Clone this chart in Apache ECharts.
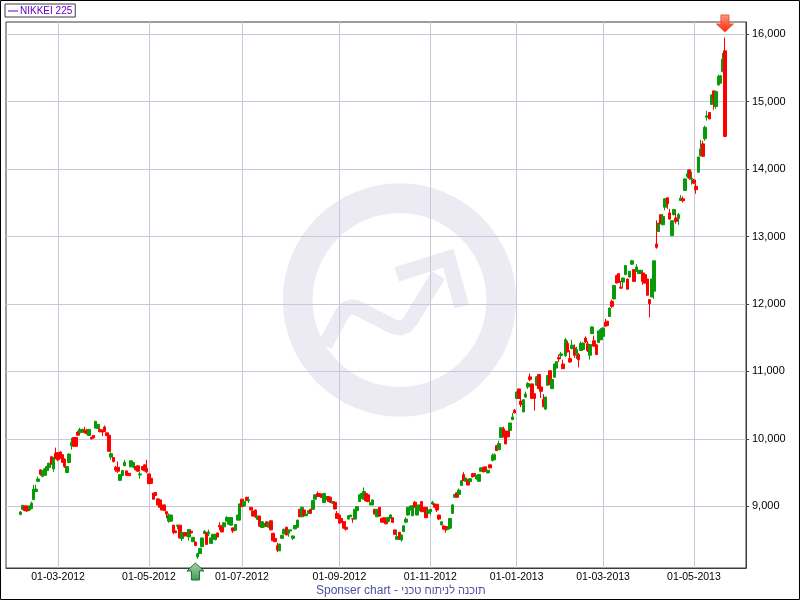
<!DOCTYPE html>
<html>
<head>
<meta charset="utf-8">
<style>
  html, body { margin: 0; padding: 0; background: #fff; }
  #chart { width: 800px; height: 600px; }
</style>
<script src="https://cdn.jsdelivr.net/npm/echarts@6/dist/echarts.min.js"></script>
</head>
<body>
<div id="chart"></div>
<script>
// ערכים נקראו מהתמונה
const opens = [
  8880,8955,9005,9005,8945,8965,9100,9220,9370,9540,
  9445,9460,9530,9575,9735,9555,9790,9795,9805,9765,
  9700,9500,9650,9900,10020,10020,10100,10090,10100,10130,
  10115,10050,10025,10050,10160,10155,10140,10115,10175,10090,
  10055,9730,9725,9580,9580,9385,9455,9600,9525,9490,
  9585,9580,9590,9600,9465,9590,9615,9565,9480,9415,
  9195,9205,9110,9095,9020,9020,8920,8780,8780,8720,
  8635,8705,8720,8520,8610,8610,8545,8630,8475,8470,
  8250,8300,8400,8595,8610,8595,8450,8510,8505,8605,
  8715,8695,8695,8780,8735,8720,8680,8645,8795,8795,
  9105,9005,9135,9080,8985,8930,8945,8805,8855,8685,
  8695,8770,8690,8785,8600,8525,8415,8340,8525,8590,
  8690,8600,8635,8525,8665,8690,8955,8845,8945,8860,
  8895,8955,8955,9105,9190,9190,9180,9055,9095,9145,
  9135,9045,9060,8895,8870,8820,8775,8690,8810,8845,
  8815,8810,8935,9070,9120,9105,9190,9170,9020,9020,
  8955,8845,8985,8820,8830,8820,8775,8820,8830,8650,
  8510,8615,8500,8625,8765,8870,8945,8860,9060,8870,
  8935,9070,8985,8985,8895,8920,9035,9035,9030,8870,
  8725,8710,8700,8660,8675,8895,9135,9200,9175,9310,
  9470,9370,9395,9365,9485,9485,9405,9370,9520,9580,
  9585,9495,9615,9680,9690,9900,9840,10020,10150,10115,
  10115,10125,10285,10425,10600,10740,10560,10400,10620,10770,
  10920,10815,10670,10795,10955,10770,10585,10440,10795,11010,
  10745,10915,11050,11205,11235,11110,11235,11415,11190,11340,
  11350,11265,11250,11310,11325,11495,11410,11240,11560,11455,
  11395,11430,11470,11520,11730,11745,11815,12040,12075,12420,
  12450,12250,12325,12435,12370,12400,12590,12510,12485,12450,
  12450,12460,12435,12370,12065,12105,12190,12890,13075,13325,
  13175,13435,13575,13350,13015,13325,13275,13265,13535,13560,
  13685,13890,13990,13850,13840,13745,13955,14200,14375,14450,
  14770,14840,14960,15160,14930,15250,15275,15450,15755
]
const closes = [
  8915,9015,8935,8930,9005,9045,9255,9255,9405,9475,
  9525,9555,9590,9640,9625,9725,9705,9690,9715,9650,
  9590,9590,9775,9950,9890,9890,10055,10140,10140,10090,
  10080,10140,10000,10015,10260,10215,10105,10100,10110,10050,
  9815,9780,9665,9540,9520,9470,9530,9650,9460,9455,
  9675,9650,9540,9520,9480,9540,9525,9510,9335,9340,
  9105,9160,9020,8985,8945,8935,8885,8870,8870,8610,
  8610,8720,8530,8610,8560,8560,8655,8605,8540,8420,
  8295,8375,8530,8630,8435,8620,8530,8585,8585,8545,
  8695,8620,8755,8835,8835,8835,8635,8730,8870,9035,
  8995,9070,9085,9095,8945,8855,8845,8855,8705,8770,
  8745,8705,8765,8650,8490,8475,8350,8440,8570,8660,
  8575,8650,8650,8560,8715,8795,8845,8985,8860,8885,
  8935,8895,9085,9170,9145,9145,9130,9190,9145,9070,
  9055,9070,8960,8820,8750,8760,8675,8660,8860,8870,
  8810,8955,8995,9170,9190,9220,9080,9070,9055,9095,
  8885,8955,8855,8765,8765,8740,8835,8870,8760,8585,
  8550,8510,8575,8710,8810,8985,9005,9010,8985,8995,
  9020,8920,8920,8830,8945,8955,9060,8985,8945,8810,
  8770,8660,8650,8670,8820,9020,9175,9135,9240,9380,
  9380,9420,9315,9410,9435,9445,9460,9470,9570,9510,
  9520,9535,9570,9755,9765,9825,9930,10165,10030,9925,
  10030,10235,10325,10385,10695,10600,10510,10580,10665,10820,
  10880,10600,10600,10920,10745,10705,10475,10620,10940,10805,
  10880,11110,11145,11185,11260,11040,11470,11290,11140,11390,
  11240,11325,11175,11415,11420,11435,11310,11400,11660,11375,
  11250,11600,11620,11645,11670,11680,11940,11965,12275,12310,
  12320,12235,12385,12570,12220,12485,12640,12335,12550,12500,
  12500,12335,12310,12130,12005,12370,12640,12840,13200,13190,
  13300,13560,13485,13260,13235,13400,13225,13325,13570,13530,
  13855,13930,13865,13865,13790,13695,14180,14300,14190,14620,
  14790,14745,15100,15040,15150,15375,15385,15630,14485
]
const lows = [
  8865,8945,8930,8925,8930,8960,9095,9210,9365,9455,
  9430,9455,9525,9565,9620,9510,9700,9665,9705,9645,
  9570,9495,9640,9840,9885,9885,10050,10080,10095,10085,
  10065,10045,9990,10005,10155,10150,10100,10040,10105,10040,
  9810,9690,9650,9510,9495,9375,9450,9595,9455,9450,
  9580,9565,9535,9515,9410,9535,9520,9490,9330,9335,
  9100,9155,9015,8980,8940,8930,8820,8755,8775,8585,
  8600,8660,8525,8485,8555,8555,8490,8600,8470,8410,
  8220,8290,8395,8590,8430,8560,8445,8490,8495,8540,
  8645,8615,8690,8775,8730,8715,8605,8640,8790,8790,
  8990,9000,9080,9050,8940,8850,8825,8800,8700,8680,
  8690,8700,8685,8645,8485,8470,8320,8335,8520,8585,
  8570,8550,8630,8500,8660,8685,8840,8840,8855,8855,
  8885,8890,8950,9100,9140,9140,9125,9050,9090,9065,
  9050,9040,8955,8815,8745,8755,8670,8640,8805,8840,
  8755,8805,8930,9065,9110,9100,9075,9060,9015,9015,
  8880,8840,8850,8760,8755,8735,8770,8815,8755,8575,
  8505,8505,8475,8620,8750,8865,8940,8855,8980,8865,
  8930,8915,8915,8825,8890,8870,9020,8980,8915,8795,
  8720,8655,8610,8650,8670,8890,9130,9130,9160,9300,
  9375,9365,9310,9350,9430,9440,9400,9365,9515,9505,
  9515,9490,9565,9665,9685,9820,9835,10015,10025,9920,
  10025,10120,10280,10380,10595,10595,10470,10395,10610,10740,
  10855,10595,10420,10790,10740,10605,10470,10435,10790,10800,
  10740,10910,11045,11140,11190,11035,11215,11285,11125,11325,
  11200,11185,11060,11305,11320,11420,11290,11175,11555,11370,
  11245,11425,11465,11515,11665,11675,11810,11940,12070,12305,
  12315,12230,12250,12430,12215,12395,12580,12330,12480,12445,
  12445,12285,12305,12125,11800,12100,12075,12820,13070,13185,
  13170,13390,13410,13250,13005,13315,13190,13175,13530,13505,
  13680,13865,13840,13770,13785,13635,13950,14190,14185,14420,
  14720,14740,14955,14880,14895,15235,15270,15435,14480
]
const highs = [
  8930,9020,9010,9010,9010,9070,9320,9320,9440,9550,
  9530,9565,9600,9645,9740,9730,9870,9800,9815,9770,
  9710,9595,9780,10015,10025,10025,10115,10165,10150,10180,
  10150,10145,10030,10055,10265,10220,10155,10140,10200,10095,
  10060,9805,9730,9600,9665,9475,9535,9690,9530,9495,
  9680,9655,9595,9610,9510,9595,9625,9690,9485,9420,
  9205,9215,9120,9100,9025,9025,8925,8895,8875,8725,
  8640,8730,8725,8615,8615,8620,8660,8640,8545,8475,
  8310,8380,8540,8645,8615,8655,8535,8590,8590,8610,
  8765,8700,8760,8855,8840,8840,8685,8735,8875,9040,
  9110,9075,9140,9145,8990,8935,8950,8860,8860,8775,
  8750,8775,8770,8790,8605,8530,8460,8445,8575,8665,
  8695,8655,8655,8565,8720,8800,8960,8995,8950,8890,
  8940,8965,9090,9175,9220,9195,9185,9195,9150,9150,
  9140,9075,9065,8930,8875,8825,8780,8695,8865,8875,
  8820,8960,9000,9175,9200,9280,9195,9175,9060,9100,
  8960,8960,8990,8825,8835,8825,8840,8885,8835,8655,
  8650,8620,8580,8715,8835,8990,9010,9015,9080,9000,
  9025,9075,8990,8990,8950,8960,9080,9040,9035,8875,
  8775,8715,8705,8675,8825,9035,9180,9205,9265,9385,
  9505,9425,9400,9415,9495,9490,9465,9475,9575,9585,
  9590,9540,9620,9785,9785,9905,9975,10170,10180,10120,
  10120,10240,10385,10445,10700,10745,10610,10585,10700,10840,
  10970,10820,10675,10925,10960,10865,10665,10625,10945,11015,
  10885,11115,11150,11250,11290,11175,11495,11455,11315,11470,
  11400,11365,11275,11445,11430,11520,11450,11405,11665,11530,
  11400,11605,11640,11650,11780,11750,11945,12065,12280,12435,
  12455,12345,12390,12575,12375,12490,12655,12515,12590,12505,
  12505,12475,12440,12375,12070,12375,12645,13240,13205,13330,
  13335,13565,13580,13410,13240,13410,13350,13350,13615,13595,
  13860,13990,13995,13965,13855,13785,14185,14435,14420,14645,
  14865,14845,15105,15165,15155,15400,15390,15720,15950
]
// מספר הנר שבו מתחיל כל חודש
const tickCandles = [17, 58, 100, 144, 185, 224, 263, 304]
const tickLabels = ['01-03-2012', '01-05-2012', '01-07-2012', '01-09-2012', '01-11-2012', '01-01-2013', '01-03-2013', '01-05-2013']
const yTicks = [9000, 10000, 11000, 12000, 13000, 14000, 15000, 16000]
const yMin = 8085
const yMax = 16182
const lowCandle = 79
const highCandle = 318
const seriesName = 'NIKKEI 225'
const captionLatin = 'Sponser chart - '
const captionHebrew = 'תוכנה לניתוח טכני'

const padLeft = 6
const padRight = 9
const font = '"Liberation Sans", Arial, sans-serif'
const gridColor = '#c9c7d8'
const axisColor = '#3c3c3c'
const markColor = '#ecebf4'

let categories = []
let candles = []
for (let i = 0; i < padLeft; i++) {
  categories.push('')
  candles.push('-')
}
opens.forEach((o, i) => {
  let at = tickCandles.indexOf(i)
  categories.push(at >= 0 ? tickLabels[at] : '')
  candles.push([o, closes[i], lows[i], highs[i]])
})
for (let i = 0; i < padRight; i++) {
  categories.push('')
  candles.push('-')
}
const isTick = (index) => tickCandles.indexOf(index - padLeft) >= 0

let myChart = echarts.init(document.getElementById('chart'))
let option = {
  animation: false,
  backgroundColor: '#fff',
  textStyle: { fontFamily: font },
  title: {
    text: '{a|' + captionLatin + '}{b|' + captionHebrew + '}',
    left: 316,
    top: 585,
    padding: 0,
    textStyle: {
      color: '#4d4da6',
      fontSize: 12,
      fontWeight: 'normal',
      fontFamily: font,
      rich: {
        a: { color: '#4d4da6', fontSize: 12, fontFamily: font },
        b: { color: '#4d4da6', fontSize: 11, fontFamily: font }
      }
    }
  },
  legend: {
    left: 5,
    top: 4,
    padding: [2, 3, 1, 3],
    borderColor: axisColor,
    borderWidth: 1,
    itemWidth: 10,
    itemHeight: 1,
    itemGap: 0,
    selectedMode: false,
    textStyle: { color: '#6600cc', fontSize: 10, fontFamily: font, padding: [0, 0, 0, -3] },
    data: [{ name: seriesName, icon: 'rect', itemStyle: { color: '#6600cc', borderWidth: 0 } }]
  },
  grid: {
    left: 6,
    right: 54,
    top: 22,
    bottom: 32,
    show: true,
    borderColor: axisColor,
    borderWidth: 1
  },
  xAxis: {
    type: 'category',
    data: categories,
    boundaryGap: true,
    axisLine: { lineStyle: { color: axisColor } },
    axisTick: { alignWithLabel: true, length: 2, interval: isTick, lineStyle: { color: axisColor } },
    axisLabel: { interval: isTick, hideOverlap: false, margin: 4, color: '#000', fontSize: 10.5, fontFamily: font },
    splitLine: { show: true, alignWithLabel: true, interval: isTick, lineStyle: { color: gridColor, width: 1 } }
  },
  yAxis: {
    type: 'value',
    position: 'right',
    min: yMin,
    max: yMax,
    axisLine: { show: true, lineStyle: { color: axisColor } },
    axisTick: { show: true, length: 3, customValues: yTicks, lineStyle: { color: axisColor } },
    axisLabel: { customValues: yTicks, margin: 6, padding: [2, 0, 0, 0], color: '#000', fontSize: 11, fontFamily: font },
    splitLine: { show: true, lineStyle: { color: gridColor, width: 1 } }
  },
  graphic: [
    // סימן מים
    { type: 'ring', z: -1, silent: true, shape: { cx: 399.5, cy: 300, r: 116.7, r0: 87 }, style: { fill: markColor } },
    { type: 'polyline', z: -1, silent: true, shape: { points: [[325, 345.3], [342.3, 313.3], [346, 309], [351, 307], [356, 307.5], [393, 326.5], [400, 328], [406, 326], [411, 320], [438.3, 275]] }, style: { fill: 'none', stroke: markColor, lineWidth: 15, lineJoin: 'round' } },
    { type: 'polyline', z: -1, silent: true, shape: { points: [[396.7, 274.3], [448.3, 258.3], [461.7, 306.7]] }, style: { fill: 'none', stroke: markColor, lineWidth: 15, lineJoin: 'miter' } },
    // מסגרת
    { type: 'rect', z: 10, silent: true, shape: { x: 0.5, y: 0.5, width: 799, height: 599 }, style: { fill: 'none', stroke: '#000', lineWidth: 1 } }
  ],
  series: [
    {
      name: seriesName,
      type: 'candlestick',
      barWidth: 3,
      silent: true,
      data: candles,
      itemStyle: {
        color: '#089a08',
        color0: '#ff0000',
        borderColor: '#089a08',
        borderColor0: '#ff0000',
        borderWidth: 1
      },
      markPoint: {
        silent: true,
        symbolSize: [17, 17],
        label: { show: false },
        data: [
          {
            name: 'low',
            coord: [lowCandle + padLeft, yMin],
            symbol: 'path://M8.5 0 L17 8 H12.5 V17 H4.5 V8 H0 Z',
            symbolOffset: [0, 3.5],
            itemStyle: {
              borderColor: '#1c6e30',
              borderWidth: 1,
              color: new echarts.graphic.LinearGradient(0, 0, 0, 1, [
                { offset: 0, color: '#a8d4b0' },
                { offset: 1, color: '#3f9a50' }
              ])
            }
          },
          {
            name: 'high',
            coord: [highCandle + padLeft, yMax],
            symbol: 'path://M4.5 0 H12.5 V9 H17 L8.5 17 L0 9 H4.5 Z',
            symbolOffset: [0, 1.5],
            itemStyle: {
              borderColor: '#ee5533',
              borderWidth: 1,
              color: new echarts.graphic.LinearGradient(0, 0, 0, 1, [
                { offset: 0, color: '#ffa090' },
                { offset: 0.5, color: '#ff5a40' },
                { offset: 1, color: '#ff2a10' }
              ])
            }
          }
        ]
      }
    }
  ]
}
myChart.setOption(option, true)
</script>
</body>
</html>
